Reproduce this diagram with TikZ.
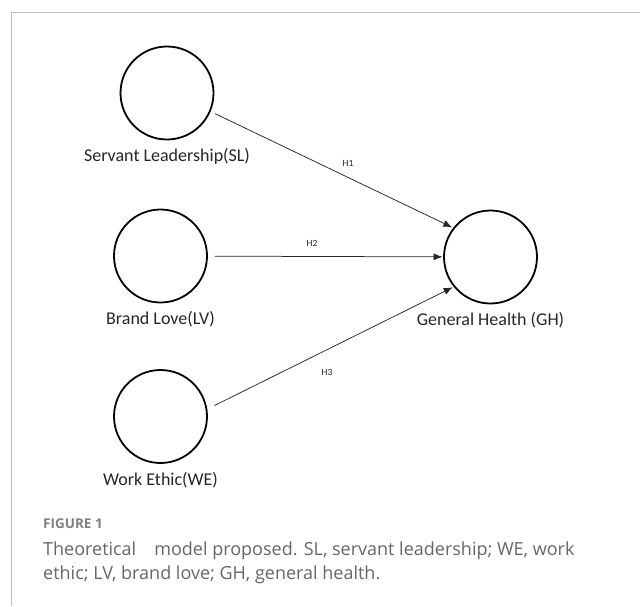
\documentclass[tikz,border=0pt]{standalone}
\usepackage{fontspec}
\setmainfont{Carlito}
\newfontfamily\capfont{Open Sans}
\usetikzlibrary{arrows.meta}

\begin{document}
\begin{tikzpicture}
        [x=1pt,y=-1pt,label distance=8pt,
         construct/.style={draw,shape=circle,line width=1.8pt,minimum size=93pt,inner sep=0},
         every label/.style={font=\fontsize{18}{20}\selectfont,text=black!85,inner sep=0},
         effect/.style={-{Latex[length=9pt,width=7pt]},line width=0.75pt,draw=black!85},
         hyp/.style={font=\fontsize{9.5}{11}\selectfont,text=black!85,inner sep=0},
         capline/.style={anchor=base west,inner sep=0,text=black!60,font=\capfont\fontsize{18}{21}\selectfont}]

        \useasboundingbox (0,0) rectangle (640,606);
        \draw[black!25,line width=1pt] (640,12) -- (11,12) -- (11,606);

        \node[construct,label=below:{Servant Leadership(SL)}] (sl) at (167,93) {};
        \node[construct,label=below:{Brand Love(LV)}] (lv) at (160.5,256) {};
        \node[construct,label=below:{Work Ethic(WE)}] (we) at (160.5,416.5) {};
        \node[construct,label=below:{General Health (GH)}] (gh) at (490.5,257) {};

        \draw[effect,shorten <=5pt,shorten >=1pt] (sl.-23.6) -- (gh.142);
        \draw[effect,shorten <=7pt,shorten >=0.5pt] (lv) -- (gh);
        \draw[effect,shorten <=8pt,shorten >=1pt] (we.9.9) -- (gh.219.6);

        \node[hyp] (h1) at (348,163) {H1};
        \node[hyp] (h2) at (312,243) {H2};
        \node[hyp] (h3) at (327,372) {H3};

        \node[capline,font=\capfont\bfseries\fontsize{13.5}{16}\selectfont,text=black!50] (fig) at (43,528) {FIGURE 1};
        \node[capline] (cap1) at (43,555) {Theoretical\hspace{18pt}model proposed. SL, servant leadership; WE, work};
        \node[capline] (cap2) at (43,579) {ethic; LV, brand love; GH, general health.};

      \end{tikzpicture}
\end{document}
